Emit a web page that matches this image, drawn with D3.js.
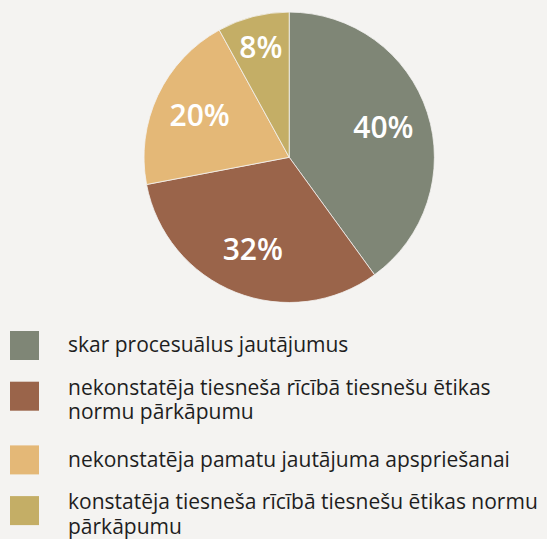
<!DOCTYPE html>
<html>
<head>
<meta charset="utf-8">
<script src="https://cdn.jsdelivr.net/npm/d3@7"></script>
<style>
  html, body { margin: 0; padding: 0; background: #f4f3f1; }
  svg { display: block; }
</style>
</head>
<body>
<svg id="chart" width="547" height="539"></svg>
<script>
// ---- data ----
const categories = [
  "skar procesuālus jautājumus",
  "nekonstatēja tiesneša rīcībā tiesnešu ētikas\nnormu pārkāpumu",
  "nekonstatēja pamatu jautājuma apspriešanai",
  "konstatēja tiesneša rīcībā tiesnešu ētikas normu\npārkāpumu"
];
const values = [40, 32, 20, 8];
const valueLabels = ["40%", "32%", "20%", "8%"];
const colors = ["#7f8676", "#9a644a", "#e4b877", "#c4ae66"];

// ---- layout ----
const W = 547, H = 539;
const cx = 289.2, cy = 157.3, R = 145.2;
const svg = d3.select("#chart");
svg.append("rect").attr("width", W).attr("height", H).attr("fill", "#f4f3f1");

const pie = d3.pie().value(d => d).sort(null);
const arcs = pie(values);
const arc = d3.arc().innerRadius(0).outerRadius(R);

const g = svg.append("g").attr("transform", `translate(${cx},${cy})`);
g.selectAll("path.slice")
  .data(arcs)
  .enter().append("path")
  .attr("class", "slice")
  .attr("d", arc)
  .attr("fill", (d, i) => colors[i])
  .attr("stroke", "#f4f3f1")
  .attr("stroke-width", 0.8);

// labels: placed on a ring inside the pie; smaller slices pushed outward
const labelR = d => {
  const frac = (d.endAngle - d.startAngle) / (2 * Math.PI);
  return R * (frac < 0.1 ? 0.785 : 0.682);
};
g.selectAll("text.lbl")
  .data(arcs)
  .enter().append("text")
  .attr("class", "lbl")
  .attr("transform", d => {
    const r = labelR(d);
    const c = d3.arc().innerRadius(r).outerRadius(r).centroid(d);
    return `translate(${c[0]},${c[1]})`;
  })
  .attr("text-anchor", "middle")
  .attr("dy", "0.36em")
  .attr("font-family", "'Open Sans', sans-serif")
  .attr("font-weight", 600)
  .attr("font-size", 30)
  .attr("fill", "#ffffff")
  .text((d, i) => valueLabels[i]);

// ---- legend ----
const legendTop = 331, legendX = 10, sw = 29, textX = 68;
const baseGap = 50.7, extraPerLine = 13, lineH = 24.2;
let y = legendTop;
const legend = svg.append("g");
categories.forEach((cat, i) => {
  const lines = cat.split("\n");
  const item = legend.append("g");
  item.append("rect")
    .attr("x", legendX).attr("y", y)
    .attr("width", sw).attr("height", sw)
    .attr("fill", colors[i]);
  const firstBase = y + 21.2 - (lines.length - 1) * 7.9;
  const t = item.append("text")
    .attr("font-family", "'Open Sans', sans-serif")
    .attr("font-size", 21)
    .attr("fill", "#1e1e1e");
  lines.forEach((ln, j) => {
    t.append("tspan").attr("x", textX).attr("y", firstBase + j * lineH).text(ln);
  });
  y += baseGap + (lines.length - 1) * extraPerLine;
});
</script>
</body>
</html>
